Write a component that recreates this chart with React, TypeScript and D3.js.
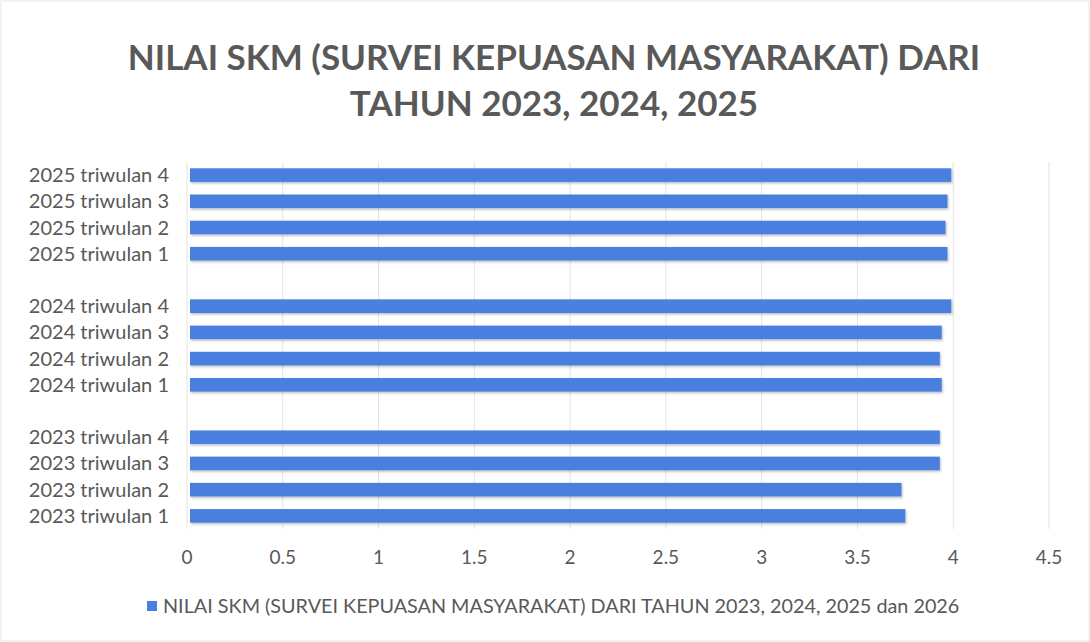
import React from "react";
import * as d3 from "d3";

const categories = [
  "2023 triwulan 1",
  "2023 triwulan 2",
  "2023 triwulan 3",
  "2023 triwulan 4",
  "",
  "2024 triwulan 1",
  "2024 triwulan 2",
  "2024 triwulan 3",
  "2024 triwulan 4",
  " ",
  "2025 triwulan 1",
  "2025 triwulan 2",
  "2025 triwulan 3",
  "2025 triwulan 4",
];
const values: (number | null)[] = [
  3.75, 3.73, 3.93, 3.93, null, 3.94, 3.93, 3.94, 3.99, null, 3.97, 3.96, 3.97, 3.99,
];
const xTicks = [0, 0.5, 1, 1.5, 2, 2.5, 3, 3.5, 4, 4.5];
const titleLines = ["NILAI SKM (SURVEI KEPUASAN MASYARAKAT) DARI", "TAHUN 2023, 2024, 2025"];
const legendLabel = "NILAI SKM (SURVEI KEPUASAN MASYARAKAT) DARI TAHUN 2023, 2024, 2025 dan 2026";

const W = 1090;
const H = 642;
const FONT = "Lato, 'Open Sans', sans-serif";
const TEXT = "#595959";
const BAR = "#4a80e0";

export default function App() {
  const x = d3.scaleLinear().domain([0, 4.5]).range([187, 1049]);
  const y = d3
    .scaleBand<string>()
    .domain([...categories].reverse())
    .range([162, 529])
    .paddingInner(0.48)
    .paddingOuter(0.24);
  const bw = y.bandwidth();

  return (
    <svg
      width={W}
      height={H}
      style={{ position: "absolute", left: 0, top: 0, background: "#ffffff" }}
    >
      <defs>
        <filter id="sh" x="-5%" y="-50%" width="110%" height="200%">
          <feDropShadow dx="1" dy="1.5" stdDeviation="1" floodColor="#000" floodOpacity="0.25" />
        </filter>
      </defs>
      <rect x={1} y={1} width={W - 2} height={H - 2} fill="#fff" stroke="#e6e6e6" />
      {titleLines.map((t, i) => (
        <text
          key={i}
          x={554}
          y={70 + i * 46}
          textAnchor="middle"
          fontFamily={FONT}
          fontWeight={700}
          fontSize={35}
          fill={TEXT}
        >
          {t}
        </text>
      ))}
      {xTicks.map((t) => (
        <g key={t}>
          <line x1={x(t)} x2={x(t)} y1={162} y2={529} stroke="#e3e3e3" strokeWidth={1} />
          <text
            x={x(t)}
            y={564}
            textAnchor="middle"
            fontFamily={FONT}
            fontSize={19}
            fill={TEXT}
          >
            {t}
          </text>
        </g>
      ))}
      {categories.map((c, i) => {
        const v = values[i];
        const yy = y(c)!;
        return (
          <g key={i}>
            {c.trim() !== "" && (
              <text
                x={169}
                y={yy + bw / 2}
                dy="0.35em"
                textAnchor="end"
                fontFamily={FONT}
                fontSize={20}
                fill={TEXT}
              >
                {c}
              </text>
            )}
            {v != null && (
              <rect
                x={x(0) + 3}
                y={yy}
                width={x(v) - x(0) - 3}
                height={bw}
                fill={BAR}
                filter="url(#sh)"
              />
            )}
          </g>
        );
      })}
      <rect x={147} y={601} width={10} height={10} fill={BAR} />
      <text x={163} y={606} dy="0.35em" fontFamily={FONT} fontSize={19.8} fill={TEXT}>
        {legendLabel}
      </text>
    </svg>
  );
}
